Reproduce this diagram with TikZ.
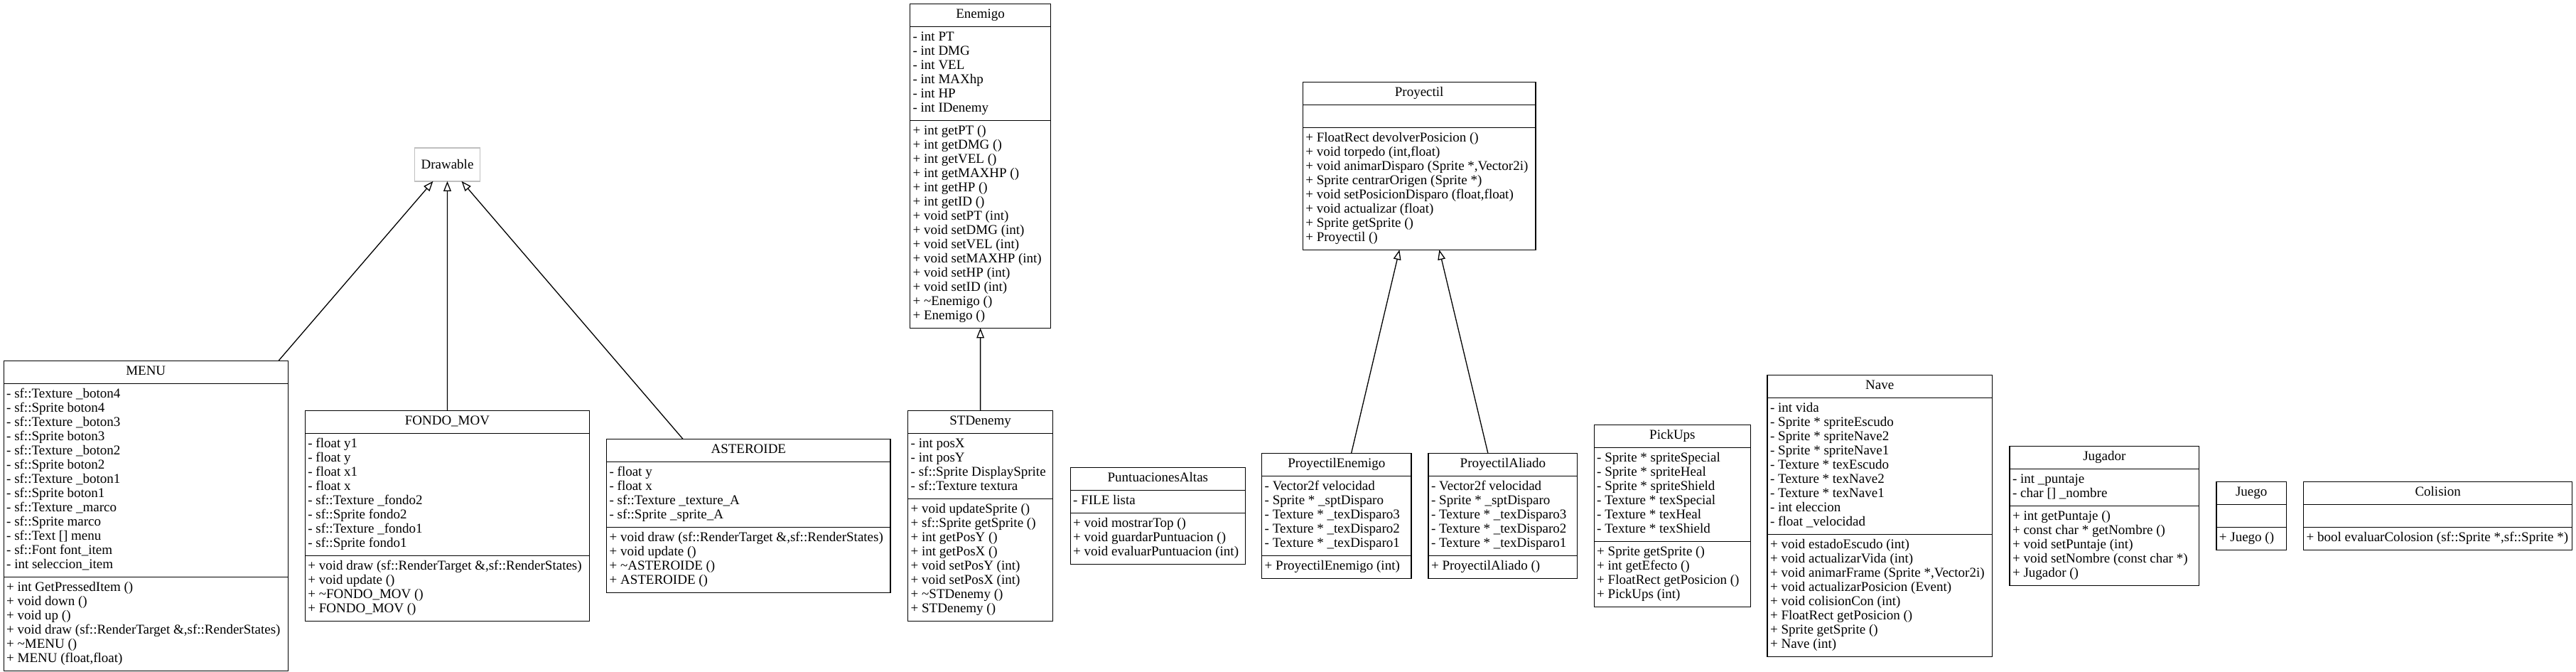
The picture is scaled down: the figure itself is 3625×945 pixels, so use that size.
\documentclass[tikz,border=0pt]{standalone}
\usepackage{fontspec}
\setmainfont{Liberation Serif}
\usetikzlibrary{arrows.meta,shapes.multipart}
\tikzset{
  classbox/.style={draw,line width=1.3pt,rectangle split,rectangle split parts=3,
    rectangle split part align={center,left,left},align=left,
    inner xsep=4pt,inner ysep=5.35pt,outer sep=0pt,anchor=north west},
  ifacebox/.style={draw=black!25,line width=1.3pt,rectangle,minimum width=92.5pt,
    minimum height=47pt,outer sep=0pt},
  inherit/.style={-{Triangle[open,length=14pt,width=10.7pt]},line width=1.3pt}
}

\begin{document}
\begin{tikzpicture}[x=1pt,y=-1pt,font=\fontsize{19}{20}\selectfont]
  \useasboundingbox (0,0) rectangle (3625,945);

  \node[ifacebox] (drawable) at (629.5,231.35) {Drawable};

  \node[classbox] (menu) at (5.2,507.15) {\makebox[392.1pt]{\strut MENU}
    \nodepart{two}\strut- sf::Texture \_boton4\\
    - sf::Sprite boton4\\
    - sf::Texture \_boton3\\
    - sf::Sprite boton3\\
    - sf::Texture \_boton2\\
    - sf::Sprite boton2\\
    - sf::Texture \_boton1\\
    - sf::Sprite boton1\\
    - sf::Texture \_marco\\
    - sf::Sprite marco\\
    - sf::Text [] menu\\
    - sf::Font font\_item\\
    - int seleccion\_item\strut
    \nodepart{three}\strut+ int GetPressedItem ()\\
    + void down ()\\
    + void up ()\\
    + void draw (sf::RenderTarget \&,sf::RenderStates)\\
    + \textasciitilde MENU ()\\
    + MENU (float,float)\strut};

  \node[classbox] (fondo) at (429.4,577.15) {\makebox[392.1pt]{\strut FONDO\_MOV}
    \nodepart{two}\strut- float y1\\
    - float y\\
    - float x1\\
    - float x\\
    - sf::Texture \_fondo2\\
    - sf::Sprite fondo2\\
    - sf::Texture \_fondo1\\
    - sf::Sprite fondo1\strut
    \nodepart{three}\strut+ void draw (sf::RenderTarget \&,sf::RenderStates)\\
    + void update ()\\
    + \textasciitilde FONDO\_MOV ()\\
    + FONDO\_MOV ()\strut};

  \node[classbox] (asteroide) at (853.6,617.15) {\makebox[391.4pt]{\strut ASTEROIDE}
    \nodepart{two}\strut- float y\\
    - float x\\
    - sf::Texture \_texture\_A\\
    - sf::Sprite \_sprite\_A\strut
    \nodepart{three}\strut+ void draw (sf::RenderTarget \&,sf::RenderStates)\\
    + void update ()\\
    + \textasciitilde ASTEROIDE ()\\
    + ASTEROIDE ()\strut};

  \node[classbox] (enemigo) at (1280.6,5.3) {\makebox[190pt]{\strut Enemigo}
    \nodepart{two}\strut- int PT\\
    - int DMG\\
    - int VEL\\
    - int MAXhp\\
    - int HP\\
    - int IDenemy\strut
    \nodepart{three}\strut+ int getPT ()\\
    + int getDMG ()\\
    + int getVEL ()\\
    + int getMAXHP ()\\
    + int getHP ()\\
    + int getID ()\\
    + void setPT (int)\\
    + void setDMG (int)\\
    + void setVEL (int)\\
    + void setMAXHP (int)\\
    + void setHP (int)\\
    + void setID (int)\\
    + \textasciitilde Enemigo ()\\
    + Enemigo ()\strut};

  \node[classbox] (stdenemy) at (1277.7,577.15) {\makebox[195.8pt]{\strut STDenemy}
    \nodepart{two}\strut- int posX\\
    - int posY\\
    - sf::Sprite DisplaySprite\\
    - sf::Texture textura\strut
    \nodepart{three}\strut+ void updateSprite ()\\
    + sf::Sprite getSprite ()\\
    + int getPosY ()\\
    + int getPosX ()\\
    + void setPosY (int)\\
    + void setPosX (int)\\
    + \textasciitilde STDenemy ()\\
    + STDenemy ()\strut};

  \node[classbox] (puntuaciones) at (1506.2,657.15) {\makebox[238.3pt]{\strut PuntuacionesAltas}
    \nodepart{two}\strut- FILE lista\strut
    \nodepart{three}\strut+ void mostrarTop ()\\
    + void guardarPuntuacion ()\\
    + void evaluarPuntuacion (int)\strut};

  \node[classbox] (proyectil) at (1833.3,115.3) {\makebox[319.8pt]{\strut Proyectil}
    \nodepart{two}\strut
    \nodepart{three}\strut+ FloatRect devolverPosicion ()\\
    + void torpedo (int,float)\\
    + void animarDisparo (Sprite *,Vector2i)\\
    + Sprite centrarOrigen (Sprite *)\\
    + void setPosicionDisparo (float,float)\\
    + void actualizar (float)\\
    + Sprite getSprite ()\\
    + Proyectil ()\strut};

  \node[classbox] (pyenemigo) at (1775.7,637.15) {\makebox[202.3pt]{\strut ProyectilEnemigo}
    \nodepart{two}\strut- Vector2f velocidad\\
    - Sprite * \_sptDisparo\\
    - Texture * \_texDisparo3\\
    - Texture * \_texDisparo2\\
    - Texture * \_texDisparo1\strut
    \nodepart{three}\strut+ ProyectilEnemigo (int)\strut};

  \node[classbox] (pyaliado) at (2010.1,637.15) {\makebox[201.5pt]{\strut ProyectilAliado}
    \nodepart{two}\strut- Vector2f velocidad\\
    - Sprite * \_sptDisparo\\
    - Texture * \_texDisparo3\\
    - Texture * \_texDisparo2\\
    - Texture * \_texDisparo1\strut
    \nodepart{three}\strut+ ProyectilAliado ()\strut};

  \node[classbox] (pickups) at (2243.2,597.15) {\makebox[212.4pt]{\strut PickUps}
    \nodepart{two}\strut- Sprite * spriteSpecial\\
    - Sprite * spriteHeal\\
    - Sprite * spriteShield\\
    - Texture * texSpecial\\
    - Texture * texHeal\\
    - Texture * texShield\strut
    \nodepart{three}\strut+ Sprite getSprite ()\\
    + int getEfecto ()\\
    + FloatRect getPosicion ()\\
    + PickUps (int)\strut};

  \node[classbox] (nave) at (2487.1,527.15) {\makebox[308.1pt]{\strut Nave}
    \nodepart{two}\strut- int vida\\
    - Sprite * spriteEscudo\\
    - Sprite * spriteNave2\\
    - Sprite * spriteNave1\\
    - Texture * texEscudo\\
    - Texture * texNave2\\
    - Texture * texNave1\\
    - int eleccion\\
    - float \_velocidad\strut
    \nodepart{three}\strut+ void estadoEscudo (int)\\
    + void actualizarVida (int)\\
    + void animarFrame (Sprite *,Vector2i)\\
    + void actualizarPosicion (Event)\\
    + void colisionCon (int)\\
    + FloatRect getPosicion ()\\
    + Sprite getSprite ()\\
    + Nave (int)\strut};

  \node[classbox] (jugador) at (2828,627.15) {\makebox[258.7pt]{\strut Jugador}
    \nodepart{two}\strut- int \_puntaje\\
    - char [] \_nombre\strut
    \nodepart{three}\strut+ int getPuntaje ()\\
    + const char * getNombre ()\\
    + void setPuntaje (int)\\
    + void setNombre (const char *)\\
    + Jugador ()\strut};

  \node[classbox] (juego) at (3118.9,677.15) {\makebox[90.5pt]{\strut Juego}
    \nodepart{two}\strut
    \nodepart{three}\strut+ Juego ()};

  \node[classbox] (colision) at (3241.6,677.15) {\makebox[370.2pt]{\strut Colision}
    \nodepart{two}\strut
    \nodepart{three}\strut+ bool evaluarColosion (sf::Sprite *,sf::Sprite *)};

  \draw[inherit] (menu) -- (drawable);
  \draw[inherit] (fondo) -- (drawable);
  \draw[inherit] (asteroide) -- (drawable);
  \draw[inherit] (stdenemy) -- (enemigo);
  \draw[inherit] (pyenemigo) -- (proyectil);
  \draw[inherit] (pyaliado) -- (proyectil);
\end{tikzpicture}
\end{document}
